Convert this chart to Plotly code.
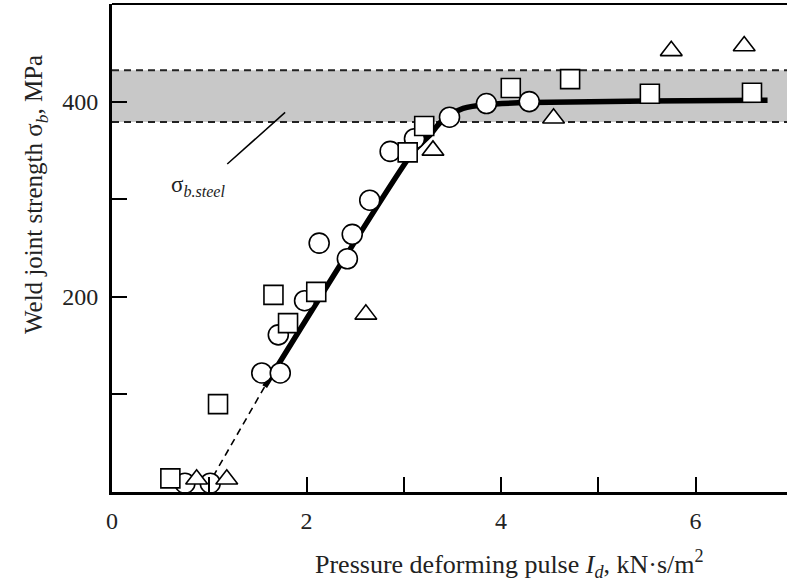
import plotly.graph_objects as go

# ---- data ----
circle_x = [0.75, 1.01, 1.54, 1.73, 1.71, 1.98, 2.13, 2.42, 2.47, 2.65, 2.86, 3.11, 3.47, 3.85, 4.29]
circle_y = [9, 9, 122, 122, 161, 196, 255, 239, 264, 299, 349, 362, 384, 398, 400]

square_x = [0.60, 1.09, 1.66, 1.81, 2.10, 3.04, 3.21, 4.10, 4.71, 5.53, 6.58]
square_y = [14, 90, 202, 173, 205, 348, 375, 414, 423, 408, 409]

triangle_x = [0.87, 1.18, 2.61, 3.30, 4.54, 5.75, 6.50]
triangle_y = [13, 13, 182, 350, 383, 452, 457]

fit_x = [1.57, 3.10, 3.27, 3.37, 3.47, 3.61, 3.85, 4.30, 5.50, 6.74]
fit_y = [108, 349, 366, 378, 386, 393, 397, 399, 400.5, 401.5]

extrap_x = [1.04, 1.57]
extrap_y = [16, 108]

steel_band = [379, 432]
steel_label_xy = [0.59, 314]
steel_pointer = [[1.185, 336], [1.78, 389]]

x_ticks = [0, 1, 2, 3, 4, 5, 6]
x_ticktext = ["0", "", "2", "", "4", "", "6"]
y_ticks = [100, 200, 300, 400]
y_ticktext = ["", "200", "", "400"]

FONT = "Liberation Serif"
TXT = "#222222"

fig = go.Figure()

fig.add_trace(go.Scatter(x=extrap_x, y=extrap_y, mode="lines",
                         line=dict(color="black", width=1.6, dash="7px,5px"),
                         showlegend=False, hoverinfo="skip"))
fig.add_trace(go.Scatter(x=fit_x, y=fit_y, mode="lines", line_shape="spline",
                         line=dict(color="black", width=5.5, smoothing=0.6),
                         showlegend=False, hoverinfo="skip"))

mk_line = dict(color="black", width=1.6)
fig.add_trace(go.Scatter(x=circle_x, y=circle_y, mode="markers",
                         marker=dict(symbol="circle", size=20, color="white", line=mk_line),
                         showlegend=False))
fig.add_trace(go.Scatter(x=square_x, y=square_y, mode="markers",
                         marker=dict(symbol="square", size=19, color="white", line=mk_line),
                         showlegend=False))
fig.add_trace(go.Scatter(x=triangle_x, y=triangle_y, mode="markers",
                         marker=dict(symbol="triangle-up", size=19, color="white", line=mk_line),
                         showlegend=False))

shapes = [
    dict(type="rect", xref="paper", yref="y", x0=0, x1=1, y0=steel_band[0], y1=steel_band[1],
         fillcolor="#c8c8c8", line=dict(width=0), layer="below"),
    dict(type="line", xref="paper", yref="y", x0=0, x1=1, y0=steel_band[0], y1=steel_band[0],
         line=dict(color="#222", width=2, dash="7px,5px"), layer="below"),
    dict(type="line", xref="paper", yref="y", x0=0, x1=1, y0=steel_band[1], y1=steel_band[1],
         line=dict(color="#222", width=2, dash="7px,5px"), layer="below"),
    dict(type="line", xref="x", yref="y", x0=steel_pointer[0][0], y0=steel_pointer[0][1],
         x1=steel_pointer[1][0], y1=steel_pointer[1][1], line=dict(color="black", width=1.5)),
    dict(type="line", xref="paper", yref="paper", x0=0, x1=1, y0=1, y1=1,
         line=dict(color="black", width=2)),
]

annotations = [
    dict(x=steel_label_xy[0], y=steel_label_xy[1], xref="x", yref="y",
         text="σ<sub><i>b.steel</i></sub>", showarrow=False, xanchor="left", yanchor="middle",
         font=dict(family=FONT, size=23, color=TXT)),
    dict(x=0.589, y=-0.147, xref="paper", yref="paper",
         text="Pressure deforming pulse <i>I<sub>d</sub></i>, kN·s/m<sup>2</sup>",
         showarrow=False, xanchor="center", yanchor="middle",
         font=dict(family=FONT, size=26, color=TXT)),
    dict(x=-0.113, y=0.61, xref="paper", yref="paper",
         text="Weld joint strength σ<sub><i>b</i></sub>, MPa", textangle=-90,
         showarrow=False, xanchor="center", yanchor="middle",
         font=dict(family=FONT, size=25, color=TXT)),
]

fig.update_layout(
    width=787, height=586,
    margin=dict(l=112, r=0, t=4, b=94),
    paper_bgcolor="white", plot_bgcolor="white",
    shapes=shapes, annotations=annotations,
    font=dict(family=FONT, color=TXT),
    xaxis=dict(range=[0, 6.94], tickvals=x_ticks, ticktext=x_ticktext,
               showline=True, linecolor="black", linewidth=3,
               ticks="inside", ticklen=15, tickwidth=2, tickcolor="black",
               showgrid=False, zeroline=False,
               tickfont=dict(family=FONT, size=24, color=TXT), ticklabelstandoff=5),
    yaxis=dict(range=[0, 500], tickvals=y_ticks, ticktext=y_ticktext,
               showline=True, linecolor="black", linewidth=3,
               ticks="inside", ticklen=15, tickwidth=2, tickcolor="black",
               showgrid=False, zeroline=False,
               tickfont=dict(family=FONT, size=24, color=TXT), ticklabelstandoff=6),
)

fig.write_html("out.html")
